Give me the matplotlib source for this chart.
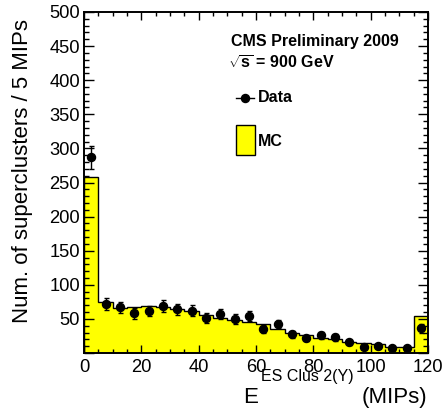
import numpy as np
import matplotlib
matplotlib.use("Agg")
import matplotlib.pyplot as plt
from matplotlib.patches import Rectangle

plt.rcParams['font.family'] = ['Liberation Sans', 'DejaVu Sans']
plt.rcParams['mathtext.fontset'] = 'custom'
plt.rcParams['mathtext.rm'] = 'Liberation Sans'
plt.rcParams['mathtext.bf'] = 'Liberation Sans:bold'
plt.rcParams['mathtext.it'] = 'Liberation Sans:italic'

# ---- data ----
bin_edges = list(range(0, 125, 5))
mc_counts = [258, 75, 65.5, 68, 69, 68, 64.5, 61, 55, 51, 48, 45,
             42.5, 34.7, 29.8, 26, 21.5, 20, 16.6, 15, 13, 9, 9, 54.7]
data_counts = [287, 72, 67, 58, 61.6, 69, 64, 62, 51, 57, 50, 54,
               35, 42.5, 27.4, 21.5, 26, 23, 15.7, 9.3, 10, 7.8, 7.8, 36]
x_ticks = [0, 20, 40, 60, 80, 100, 120]
y_ticks = [50, 100, 150, 200, 250, 300, 350, 400, 450, 500]

edges = np.array(bin_edges, dtype=float)
centers = 0.5 * (edges[:-1] + edges[1:])
data = np.array(data_counts)
yerr = np.sqrt(data)

W, H = 444, 409
fig = plt.figure(figsize=(W / 100, H / 100), dpi=100)
ax = fig.add_axes([84 / W, 1 - 353 / H, (428 - 84) / W, (353 - 12) / H])

ax.stairs(mc_counts, edges, fill=True, facecolor='#ffff00', edgecolor='none', zorder=1)
ax.stairs(mc_counts, edges, fill=False, edgecolor='black', linewidth=1.0, zorder=2)
ax.errorbar(centers, data, yerr=yerr, fmt='o', color='black', markersize=5.8,
            elinewidth=1.0, capsize=1.8, capthick=1.0, zorder=3)

ax.set_xlim(0, 120)
ax.set_ylim(0, 500)
ax.set_xticks(x_ticks)
ax.set_xticklabels([str(v) for v in x_ticks])
ax.set_xticks(np.arange(0, 121, 5), minor=True)
ax.set_yticks([0] + y_ticks)
ax.set_yticklabels([''] + [str(v) for v in y_ticks])
ax.set_yticks(np.arange(0, 501, 10), minor=True)

ax.tick_params(axis='both', which='both', direction='in', top=True, right=True,
               labelsize=13.2, width=1.0)
ax.tick_params(axis='x', which='major', length=5.5, pad=4.5)
ax.tick_params(axis='x', which='minor', length=2.8)
ax.tick_params(axis='y', which='major', length=7.5, pad=3)
ax.tick_params(axis='y', which='minor', length=3.8)
for s in ax.spines.values():
    s.set_linewidth(1.4)

ax.set_ylabel('Num. of superclusters / 5 MIPs', fontsize=16)
ax.yaxis.set_label_coords(-0.148, 0.535)

# x axis title (ROOT style, raised superscript)
fig.text(243 / W, 1 - 403 / H, 'E', fontsize=16, va='baseline', ha='left')
fig.text(261 / W, 1 - 381 / H, 'ES Clus 2(Y)', fontsize=11.5, va='baseline', ha='left')
fig.text(427 / W, 1 - 403 / H, '(MIPs)', fontsize=16, va='baseline', ha='right')

# annotations
fig.text(231 / W, 1 - 46 / H, 'CMS Preliminary 2009', fontsize=11.5,
         fontweight='bold', va='baseline', ha='left')
fig.text(228 / W, 1 - 69 / H, r'$\sqrt{\mathbf{s}}$ = 900 GeV', fontsize=11.5,
         fontweight='bold', va='baseline', ha='left')

# legend
fig.lines.append(plt.Line2D([236 / W, 254 / W], [1 - 97.7 / H, 1 - 97.7 / H],
                            transform=fig.transFigure, color='black', lw=1.0))
fig.lines.append(plt.Line2D([245 / W], [1 - 97.7 / H], transform=fig.transFigure,
                            color='black', marker='o', markersize=5.8, lw=0))
fig.text(258 / W, 1 - 97.7 / H, 'Data', fontsize=11.5, fontweight='bold',
         va='center', ha='left')
fig.patches.append(Rectangle((236 / W, 1 - 155 / H), 19 / W, 30 / H,
                             transform=fig.transFigure, facecolor='#ffff00',
                             edgecolor='black', lw=1.0))
fig.text(258 / W, 1 - 141 / H, 'MC', fontsize=11.5, fontweight='bold',
         va='center', ha='left')

fig.savefig('out.png', dpi=100)
